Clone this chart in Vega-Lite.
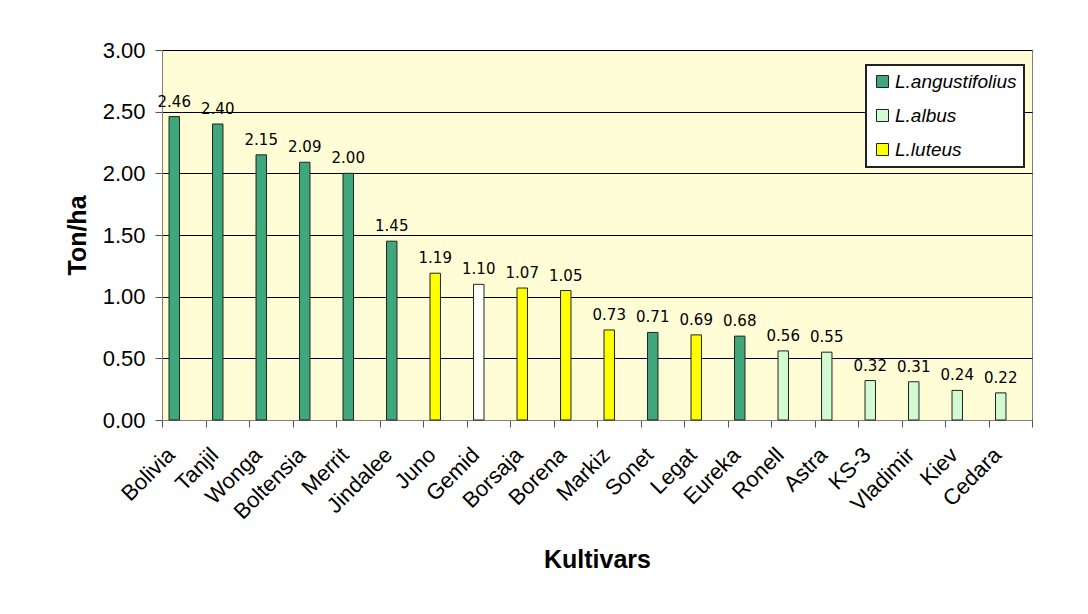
{
  "$schema": "https://vega.github.io/schema/vega-lite/v6.json",
  "width": 870,
  "height": 370,
  "autosize": {"type": "none"},
  "padding": {"left": 162, "top": 50, "right": 56, "bottom": 194},
  "background": "white",
  "config": {
    "view": {"fill": "#FFFDD5", "stroke": "#808080", "strokeWidth": 1},
    "font": "Liberation Sans",
    "legend": {"strokeColor": "#222222", "strokeWidth": 2, "fillColor": "#FFFFFF", "padding": 7}
  },
  "data": {
    "values": [
      {"cultivar": "Bolivia", "yield": 2.46, "species": "L.angustifolius"},
      {"cultivar": "Tanjil", "yield": 2.40, "species": "L.angustifolius"},
      {"cultivar": "Wonga", "yield": 2.15, "species": "L.angustifolius"},
      {"cultivar": "Boltensia", "yield": 2.09, "species": "L.angustifolius"},
      {"cultivar": "Merrit", "yield": 2.00, "species": "L.angustifolius"},
      {"cultivar": "Jindalee", "yield": 1.45, "species": "L.angustifolius"},
      {"cultivar": "Juno", "yield": 1.19, "species": "L.luteus"},
      {"cultivar": "Gemid", "yield": 1.10, "species": "unlabelled"},
      {"cultivar": "Borsaja", "yield": 1.07, "species": "L.luteus"},
      {"cultivar": "Borena", "yield": 1.05, "species": "L.luteus"},
      {"cultivar": "Markiz", "yield": 0.73, "species": "L.luteus"},
      {"cultivar": "Sonet", "yield": 0.71, "species": "L.angustifolius"},
      {"cultivar": "Legat", "yield": 0.69, "species": "L.luteus"},
      {"cultivar": "Eureka", "yield": 0.68, "species": "L.angustifolius"},
      {"cultivar": "Ronell", "yield": 0.56, "species": "L.albus"},
      {"cultivar": "Astra", "yield": 0.55, "species": "L.albus"},
      {"cultivar": "KS-3", "yield": 0.32, "species": "L.albus"},
      {"cultivar": "Vladimir", "yield": 0.31, "species": "L.albus"},
      {"cultivar": "Kiev", "yield": 0.24, "species": "L.albus"},
      {"cultivar": "Cedara", "yield": 0.22, "species": "L.albus"}
    ]
  },
  "encoding": {
    "x": {
      "field": "cultivar",
      "type": "nominal",
      "sort": null,
      "title": "Kultivars",
      "scale": {"paddingInner": 0, "paddingOuter": 0},
      "axis": {
        "labelAngle": -45,
        "labelAlign": "right",
        "labelBaseline": "middle",
        "labelFont": "Liberation Sans",
        "labelFontSize": 22,
        "labelColor": "#000",
        "labelPadding": 24,
        "labelOffset": -13,
        "labelOverlap": false,
        "labelBound": false,
        "tickBand": "extent",
        "tickSize": 7,
        "tickColor": "#555555",
        "domainColor": "#808080",
        "grid": false,
        "titleFont": "Liberation Sans",
        "titleFontSize": 25,
        "titleFontWeight": "bold",
        "titleColor": "#000",
        "titlePadding": 25
      }
    },
    "y": {
      "field": "yield",
      "type": "quantitative",
      "title": "Ton/ha",
      "scale": {"domain": [0, 3], "nice": false},
      "axis": {
        "values": [0, 0.5, 1, 1.5, 2, 2.5, 3],
        "format": ".2f",
        "labelFont": "Liberation Sans",
        "labelFontSize": 22,
        "labelColor": "#000",
        "labelPadding": 10,
        "tickSize": 7,
        "tickColor": "#555555",
        "domainColor": "#808080",
        "gridColor": "#000000",
        "gridWidth": 1,
        "titleFont": "Liberation Sans",
        "titleFontSize": 25,
        "titleFontWeight": "bold",
        "titleColor": "#000",
        "titlePadding": 12
      }
    }
  },
  "layer": [
    {
      "mark": {"type": "bar", "width": {"band": 0.24}, "xOffset": -9.5, "stroke": "#222222", "strokeWidth": 1},
      "encoding": {
        "color": {
          "field": "species",
          "type": "nominal",
          "scale": {
            "domain": ["L.angustifolius", "L.albus", "L.luteus", "unlabelled"],
            "range": ["#3EA77B", "#D2FBD2", "#FFFF00", "#FFFFFF"]
          },
          "legend": {
            "values": ["L.angustifolius", "L.albus", "L.luteus"],
            "title": null,
            "orient": "none",
            "legendX": 704,
            "legendY": 15,
            "direction": "vertical",
            "rowPadding": 14,
            "symbolType": "square",
            "symbolSize": 144,
            "symbolStrokeColor": "#222222",
            "symbolStrokeWidth": 1,
            "symbolOpacity": 1,
            "labelFont": "Liberation Sans",
            "labelFontSize": 19,
            "labelFontStyle": "italic",
            "labelColor": "#000",
            "labelOffset": 3,
            "labelLimit": 300
          }
        }
      }
    },
    {
      "mark": {"type": "text", "xOffset": -9.5, "dy": -10, "baseline": "alphabetic", "font": "DejaVu Sans", "fontSize": 15, "color": "#000"},
      "encoding": {
        "text": {"field": "yield", "type": "quantitative", "format": ".2f"}
      }
    }
  ]
}
